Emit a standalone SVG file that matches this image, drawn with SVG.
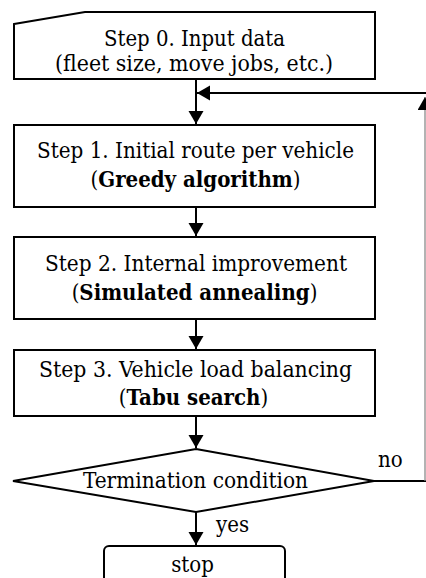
<svg xmlns="http://www.w3.org/2000/svg" width="426" height="578" viewBox="0 0 426 578">
  <style>
    .box { fill: #ffffff; stroke: #000000; stroke-width: 2; }
    .txt { font-family: "DejaVu Serif Condensed", "DejaVu Serif", "Liberation Serif", serif; font-size: 22px; fill: #000000; text-anchor: middle; }
    .lbl { font-family: "DejaVu Serif Condensed", "DejaVu Serif", "Liberation Serif", serif; font-size: 22px; fill: #000000; }
    .b { font-weight: bold; }
    .wire { fill: none; stroke: #000000; stroke-width: 2; }
    .thin { fill: none; stroke: #8a8a8a; stroke-width: 1.3; }
  </style>
  <defs>
    <marker id="arrow" markerUnits="userSpaceOnUse" markerWidth="14" markerHeight="16" refX="13" refY="7.5" orient="auto">
      <path d="M0,0 L13,7.5 L0,15 Z" fill="#000000"/>
    </marker>
  </defs>
  <rect width="426" height="578" fill="#ffffff"/>

  <g id="connectors">
    <line class="wire" x1="196" y1="79" x2="196" y2="124" marker-end="url(#arrow)"/>
    <line class="wire" x1="196" y1="207" x2="196" y2="236" marker-end="url(#arrow)"/>
    <line class="wire" x1="196" y1="319" x2="196" y2="349" marker-end="url(#arrow)"/>
    <line class="wire" x1="196" y1="416" x2="196" y2="448" marker-end="url(#arrow)"/>
    <line class="wire" x1="196" y1="512" x2="196" y2="545" marker-end="url(#arrow)"/>
    <!-- loop back from the decision to step 1 -->
    <line class="wire" x1="374" y1="481" x2="426" y2="481"/>
    <line class="thin" x1="425" y1="481" x2="425" y2="97" marker-end="url(#arrow)"/>
    <line class="wire" x1="426" y1="93" x2="197" y2="93" marker-end="url(#arrow)"/>
    <text class="lbl" x="378" y="467">no</text>
    <text class="lbl" x="216" y="532">yes</text>
  </g>

  <g id="step0">
    <polygon class="box" points="14,24 85,12 375,12 375,79 14,79"/>
    <text class="txt" x="194.5" y="46" textLength="181" lengthAdjust="spacingAndGlyphs">Step 0. Input data</text>
    <text class="txt" x="194" y="71" textLength="278" lengthAdjust="spacingAndGlyphs">(fleet size, move jobs, etc.)</text>
  </g>

  <g id="step1">
    <rect class="box" x="14" y="125" width="361" height="82"/>
    <text class="txt" x="195.5" y="158" textLength="317" lengthAdjust="spacingAndGlyphs">Step 1. Initial route per vehicle</text>
    <text class="txt" x="195.5" y="187">(<tspan class="b">Greedy algorithm</tspan>)</text>
  </g>

  <g id="step2">
    <rect class="box" x="14" y="237" width="361" height="82"/>
    <text class="txt" x="196" y="271" textLength="302" lengthAdjust="spacingAndGlyphs">Step 2. Internal  improvement</text>
    <text class="txt" x="194.5" y="300">(<tspan class="b">Simulated annealing</tspan>)</text>
  </g>

  <g id="step3">
    <rect class="box" x="14" y="350" width="361" height="66"/>
    <text class="txt" x="195.5" y="377" textLength="313" lengthAdjust="spacingAndGlyphs">Step 3. Vehicle  load balancing</text>
    <text class="txt" x="193.5" y="405">(<tspan class="b">Tabu search</tspan>)</text>
  </g>

  <g id="termination">
    <polygon class="box" points="196,449 374,481 196,512 13,481"/>
    <text class="txt" x="195.5" y="488" textLength="225" lengthAdjust="spacingAndGlyphs">Termination condition</text>
  </g>

  <g id="stop">
    <rect class="box" x="104" y="546" width="181" height="50" rx="5"/>
    <text class="txt" x="192.5" y="572">stop</text>
  </g>
</svg>
